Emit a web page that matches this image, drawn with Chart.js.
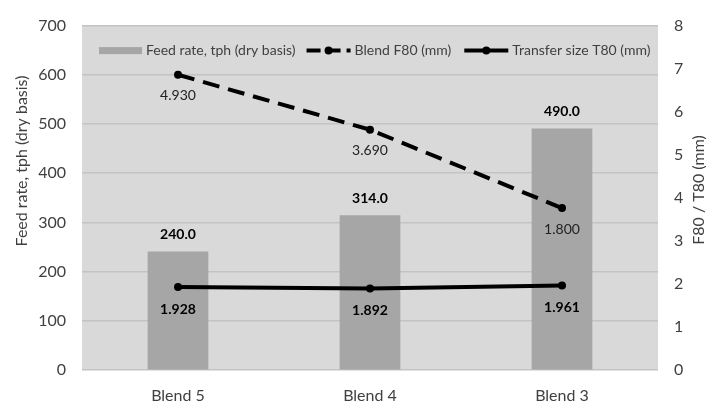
<!DOCTYPE html>
<html>
<head>
<meta charset="utf-8">
<script src="https://cdn.jsdelivr.net/npm/chart.js@4.4.1/dist/chart.umd.min.js"></script>
<style>
  html, body { margin: 0; padding: 0; background: #ffffff; }
  #wrap { width: 707px; height: 405px; position: relative; }
</style>
</head>
<body>
<div id="wrap"><canvas id="c" width="707" height="405"></canvas></div>
<script>
// Blends and their measured values
const categories = ['Blend 5', 'Blend 4', 'Blend 3'];
const feedRate = [240.0, 314.0, 490.0];          // tph, dry basis
const transferT80 = [1.928, 1.892, 1.961];       // mm
const blendF80 = [4.930, 3.690, 1.800];          // mm, stacked on T80

const leftTicks = [0, 100, 200, 300, 400, 500, 600, 700];
const rightTicks = [0, 1, 2, 3, 4, 5, 6, 7, 8];

const FONT = 'Lato, "Open Sans", sans-serif';
const TEXT = '#404040';
const PLOT_BG = '#d9d9d9';
const GRID = '#c3c3c3';
const BAR = '#a6a6a6';

// Plot-area background fill
const plotBg = {
  id: 'plotBg',
  beforeDraw(chart) {
    const { ctx, chartArea: a } = chart;
    ctx.save();
    ctx.fillStyle = PLOT_BG;
    ctx.fillRect(a.left, a.top, a.right - a.left, a.bottom - a.top);
    ctx.restore();
  }
};

// Value labels next to each bar / point
const valueLabels = {
  id: 'valueLabels',
  afterDatasetsDraw(chart) {
    const { ctx } = chart;
    ctx.save();
    ctx.textAlign = 'center';
    ctx.textBaseline = 'middle';
    chart.data.datasets.forEach((ds, i) => {
      const meta = chart.getDatasetMeta(i);
      const cfg = ds.valueLabel;
      meta.data.forEach((el, j) => {
        const v = ds.data[j];
        ctx.font = (cfg.bold ? 'bold ' : '') + cfg.size + 'px ' + FONT;
        ctx.fillStyle = cfg.color;
        const y = cfg.where === 'above' ? el.y - cfg.offset : el.y + cfg.offset;
        ctx.fillText(v.toFixed(cfg.digits), el.x, y);
      });
    });
    ctx.restore();
  }
};

// Legend drawn inside the top of the plot area, plus axis titles
const legendAndTitles = {
  id: 'legendAndTitles',
  afterDraw(chart) {
    const { ctx, chartArea: a } = chart;
    ctx.save();
    const y = a.top + 25;
    ctx.font = '14px ' + FONT;
    ctx.fillStyle = TEXT;
    ctx.textBaseline = 'middle';
    ctx.textAlign = 'left';
    let x = a.left + 17;
    // bar swatch
    ctx.fillStyle = BAR;
    ctx.fillRect(x, y - 3.5, 43, 7);
    x += 47;
    ctx.fillStyle = TEXT;
    const t1 = chart.data.datasets[0].label;
    ctx.fillText(t1, x, y);
    x += ctx.measureText(t1).width + 11;
    // line swatch with its marker
    const drawLineSwatch = (x0, dash) => {
      ctx.strokeStyle = '#000';
      ctx.lineWidth = 4;
      ctx.setLineDash(dash);
      ctx.beginPath();
      ctx.moveTo(x0, y);
      ctx.lineTo(x0 + 44, y);
      ctx.stroke();
      ctx.setLineDash([]);
      ctx.fillStyle = '#000';
      ctx.beginPath();
      ctx.arc(x0 + 22, y, 4, 0, Math.PI * 2);
      ctx.fill();
    };
    drawLineSwatch(x, [14, 6]);
    x += 48;
    ctx.fillStyle = TEXT;
    const t2 = chart.data.datasets[2].label;
    ctx.fillText(t2, x, y);
    x += ctx.measureText(t2).width + 13;
    drawLineSwatch(x, []);
    x += 48;
    ctx.fillStyle = TEXT;
    ctx.fillText(chart.data.datasets[1].label, x, y);

    // axis titles
    ctx.font = '16px ' + FONT;
    ctx.textAlign = 'center';
    ctx.fillStyle = TEXT;
    ctx.save();
    ctx.translate(22, 161);
    ctx.rotate(-Math.PI / 2);
    ctx.fillText('Feed rate, tph (dry basis)', 0, 0);
    ctx.restore();
    ctx.save();
    ctx.translate(699, 190);
    ctx.rotate(-Math.PI / 2);
    ctx.fillText('F80 / T80 (mm)', 0, 0);
    ctx.restore();
    ctx.restore();
  }
};

new Chart(document.getElementById('c'), {
  data: {
    labels: categories,
    datasets: [
      {
        type: 'bar',
        label: 'Feed rate, tph (dry basis)',
        data: feedRate,
        yAxisID: 'y',
        backgroundColor: BAR,
        borderWidth: 0,
        barThickness: 60,
        order: 3,
        valueLabel: { where: 'above', offset: 17, bold: true, size: 14, color: '#000', digits: 1 }
      },
      {
        type: 'line',
        label: 'Transfer size T80 (mm)',
        data: transferT80,
        yAxisID: 'y1',
        borderColor: '#000',
        backgroundColor: '#000',
        borderWidth: 4,
        pointRadius: 4,
        pointBorderWidth: 0,
        pointHoverRadius: 4,
        fill: false,
        tension: 0,
        order: 1,
        valueLabel: { where: 'below', offset: 22, bold: true, size: 14, color: '#000', digits: 3 }
      },
      {
        type: 'line',
        label: 'Blend F80 (mm)',
        data: blendF80,
        yAxisID: 'y1',
        borderColor: '#000',
        backgroundColor: '#000',
        borderWidth: 4,
        borderDash: [17, 9],
        pointRadius: 4,
        pointBorderWidth: 0,
        pointHoverRadius: 4,
        fill: false,
        tension: 0,
        order: 2,
        valueLabel: { where: 'below', offset: 21, bold: false, size: 14, color: '#222', digits: 3 }
      }
    ]
  },
  options: {
    responsive: false,
    animation: false,
    devicePixelRatio: 1,
    layout: { padding: { top: 19, left: 0, right: 0, bottom: 0 } },
    plugins: {
      legend: { display: false },
      tooltip: { enabled: false }
    },
    scales: {
      x: {
        type: 'category',
        grid: { display: false },
        border: { display: false },
        ticks: { color: TEXT, font: { family: FONT, size: 16 }, padding: 8 },
        afterFit(s) { s.height = 35; }
      },
      y: {
        type: 'linear',
        position: 'left',
        min: 0,
        max: 700,
        afterBuildTicks(s) { s.ticks = leftTicks.map(v => ({ value: v })); },
        grid: { color: GRID, lineWidth: 1.5, drawTicks: false },
        border: { display: false },
        ticks: { color: TEXT, font: { family: FONT, size: 16 }, padding: 16 },
        afterFit(s) { s.width = 82; }
      },
      y1: {
        type: 'linear',
        position: 'right',
        stacked: true,
        min: 0,
        max: 8,
        afterBuildTicks(s) { s.ticks = rightTicks.map(v => ({ value: v })); },
        grid: { display: false, drawTicks: false },
        border: { display: false },
        ticks: { color: TEXT, font: { family: FONT, size: 16 }, padding: 16 },
        afterFit(s) { s.width = 49; }
      }
    }
  },
  plugins: [plotBg, valueLabels, legendAndTitles]
});
</script>
</body>
</html>
